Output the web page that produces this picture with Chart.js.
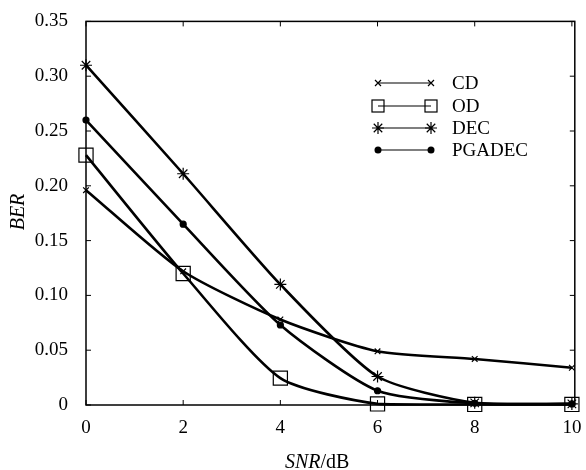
<!DOCTYPE html>
<html>
<head>
<meta charset="utf-8">
<script src="https://cdn.jsdelivr.net/npm/chart.js@4/dist/chart.umd.min.js"></script>
<style>
  html, body { margin: 0; padding: 0; background: #fff; }
  #wrap { width: 586px; height: 470px; position: relative; }
</style>
</head>
<body>
<div id="wrap"><canvas id="chart1"></canvas></div>
<script>
    "use strict";

    // data
    var snr = [0, 2, 4, 6, 8, 10];
    var cdBer = [0.196, 0.122, 0.078, 0.049, 0.042, 0.034];
    var odBer = [0.228, 0.120, 0.0245, 0.001, 0.0005, 0.0005];
    var decBer = [0.310, 0.211, 0.110, 0.026, 0.002, 0.001];
    var pgadecBer = [0.260, 0.165, 0.073, 0.013, 0.0015, 0.001];
    var yTicks = [0, 0.05, 0.10, 0.15, 0.20, 0.25, 0.30, 0.35];
    var xTicks = [0, 2, 4, 6, 8, 10];

    var serif = '"Liberation Serif", "DejaVu Serif", serif';

    function pts(ys) {
        return snr.map(function (x, i) { return { x: x, y: ys[i] }; });
    }

    var seriesStyle = [
        { label: 'CD', data: cdBer, style: 'crossRot', r: 4, fill: 'transparent' },
        { label: 'OD', data: odBer, style: 'rect', r: 10, fill: 'transparent' },
        { label: 'DEC', data: decBer, style: 'star', r: 6, fill: 'transparent' },
        { label: 'PGADEC', data: pgadecBer, style: 'circle', r: 3, fill: '#000' }
    ];

    // frame, inward ticks, axis titles and legend
    var framePlugin = {
        id: 'frame',
        afterDatasetsDraw: function (chart) {
            var c = chart.ctx, a = chart.chartArea;
            var xs = chart.scales.x, ys = chart.scales.y;
            c.save();
            c.strokeStyle = '#000';
            c.lineWidth = 1.5;
            c.strokeRect(a.left, a.top, a.right - a.left, a.bottom - a.top);
            c.lineWidth = 1;
            c.beginPath();
            xTicks.forEach(function (v) {
                var px = xs.getPixelForValue(v);
                c.moveTo(px, a.top); c.lineTo(px, a.top + 5);
                c.moveTo(px, a.bottom); c.lineTo(px, a.bottom - 5);
            });
            yTicks.forEach(function (v) {
                var py = ys.getPixelForValue(v);
                c.moveTo(a.left, py); c.lineTo(a.left + 5, py);
                c.moveTo(a.right, py); c.lineTo(a.right - 5, py);
            });
            c.stroke();

            // axis titles
            c.fillStyle = '#000';
            c.font = 'italic 20px ' + serif;
            c.textBaseline = 'middle';
            c.save();
            c.translate(19, 212);
            c.rotate(-Math.PI / 2);
            c.textAlign = 'center';
            c.fillText('BER', 0, 0);
            c.restore();
            c.textAlign = 'left';
            c.fillText('SNR', 285, 463);
            var w = c.measureText('SNR').width;
            c.font = '20px ' + serif;
            c.fillText('/dB', 285 + w, 463);

            // legend
            var x1 = 378, x2 = 431, tx = 452;
            var rows = [83, 106, 128, 150];
            seriesStyle.forEach(function (s, i) {
                var y = rows[i];
                c.lineWidth = 1.2;
                c.beginPath();
                c.moveTo(x1, y); c.lineTo(x2, y);
                c.stroke();
                [x1, x2].forEach(function (px) {
                    drawMark(c, s.style, px, y);
                });
                c.font = '19px ' + serif;
                c.textAlign = 'left';
                c.fillText(s.label, tx, y + 1);
            });
            c.restore();
        }
    };

    function drawMark(c, style, x, y) {
        c.beginPath();
        if (style === 'crossRot') {
            c.moveTo(x - 3, y - 3); c.lineTo(x + 3, y + 3);
            c.moveTo(x - 3, y + 3); c.lineTo(x + 3, y - 3);
            c.stroke();
        } else if (style === 'rect') {
            c.strokeRect(x - 6, y - 6, 12, 12);
        } else if (style === 'star') {
            for (var k = 0; k < 4; k++) {
                var ang = k * Math.PI / 4;
                c.moveTo(x - 6 * Math.cos(ang), y - 6 * Math.sin(ang));
                c.lineTo(x + 6 * Math.cos(ang), y + 6 * Math.sin(ang));
            }
            c.stroke();
        } else {
            c.arc(x, y, 3.5, 0, Math.PI * 2);
            c.fill();
        }
    }

    var ctx = document.getElementById('chart1').getContext('2d');

    var myChart = new Chart(ctx, {
        type: 'line',
        data: {
            datasets: seriesStyle.map(function (s) {
                return {
                    label: s.label,
                    data: pts(s.data),
                    borderColor: '#000',
                    borderWidth: 2.6,
                    pointStyle: s.style,
                    pointRadius: s.r,
                    pointBorderWidth: 1.2,
                    pointBorderColor: '#000',
                    pointBackgroundColor: s.fill,
                    tension: 0.22,
                    fill: false,
                    clip: false
                };
            })
        },
        options: {
            responsive: true,
            maintainAspectRatio: false,
            animation: false,
            layout: { padding: { top: 19, right: 7, left: 0, bottom: 0 } },
            plugins: {
                legend: { display: false },
                tooltip: { enabled: false }
            },
            scales: {
                x: {
                    type: 'linear',
                    min: 0,
                    max: 10.06,
                    afterFit: function (s) { s.height = 65; },
                    afterBuildTicks: function (s) {
                        s.ticks = xTicks.map(function (v) { return { value: v }; });
                    },
                    grid: { display: false },
                    border: { display: false },
                    ticks: {
                        color: '#000',
                        padding: 4,
                        maxRotation: 0,
                        font: { family: serif, size: 19 }
                    }
                },
                y: {
                    type: 'linear',
                    min: 0,
                    max: 0.35,
                    afterFit: function (s) { s.width = 86; },
                    afterBuildTicks: function (s) {
                        s.ticks = yTicks.map(function (v) { return { value: v }; });
                    },
                    grid: { display: false },
                    border: { display: false },
                    ticks: {
                        color: '#000',
                        padding: 10,
                        font: { family: serif, size: 19 },
                        callback: function (v) { return v === 0 ? '0' : v.toFixed(2); }
                    }
                }
            }
        },
        plugins: [framePlugin]
    });
</script>
</body>
</html>
